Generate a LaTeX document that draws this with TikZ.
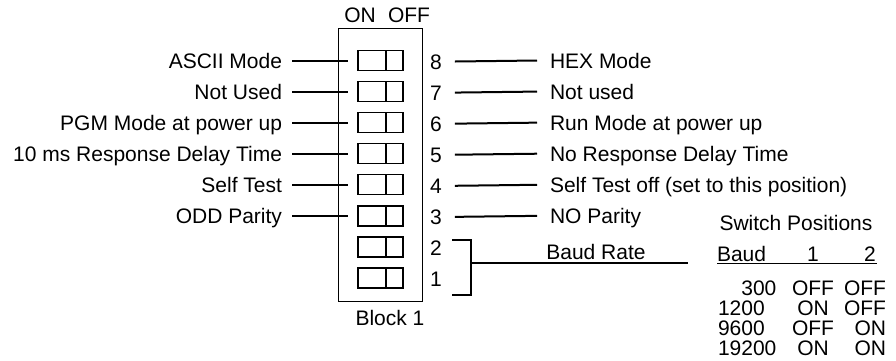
\documentclass[tikz,border=0pt]{standalone}
\usepackage{fontspec}
\setmainfont{Liberation Sans}
\begin{document}
\begin{tikzpicture}[x=1pt,y=-1pt,
  font=\fontsize{21}{23}\selectfont,
  every node/.style={inner sep=0pt, outer sep=0pt},
  lbl/.style={text height=15pt, text depth=0pt},
  lead/.style={line width=2pt},
  blockline/.style={line width=1pt},
  switchbox/.style={draw, line width=1.3pt, minimum width=45pt, minimum height=20pt}]
\useasboundingbox (0,0) rectangle (896,360);

% block
\node[draw, blockline, minimum width=84pt, minimum height=273pt] (block) at (380,164.5) {};
\node[lbl] (on) at (360,15) {ON};
\node[lbl] (off) at (409,15) {OFF};
\node[lbl] (blk) at (390,318) {Block 1};

% switches and numbers
\foreach \k in {1,...,8} {
  \pgfmathsetmacro{\yy}{60.5+31.07*(8-\k)}
  \node[switchbox] (s\k) at (380.5,\yy) {};
  \draw[line width=1.1pt] ([xshift=28pt]s\k.north west) -- ([xshift=28pt]s\k.south west);
  \node[lbl] (n\k) at (436,\yy+1) {\k};
}

% left labels
\foreach \k/\t in {8/ASCII Mode,7/Not Used,6/PGM Mode at power up,5/10 ms Response Delay Time,4/Self Test,3/ODD Parity} {
  \node[lbl, anchor=east] (l\k) at (282, 60.5+31.07*8-31.07*\k) {\t};
  \draw[lead] ([xshift=10pt]l\k.east) -- ([xshift=-10pt]s\k.west);
}

% right labels
\foreach \k/\t in {8/HEX Mode,7/Not used,6/Run Mode at power up,5/No Response Delay Time,4/Self Test off (set to this position),3/NO Parity} {
  \node[lbl, anchor=west] (r\k) at (550, 60.5+31.07*8-31.07*\k) {\t};
  \draw[lead] ([xshift=13pt]n\k.east) -- ([xshift=-13pt]r\k.west);
}

% bracket for baud rate
\coordinate (bt) at (452,240);
\coordinate (bb) at (452,295);
\coordinate (bm) at (471,263);
\coordinate (be) at (688,263);
\draw[lead] (bt) -- (bt -| bm) -- (bb -| bm) -- (bb);
\draw[lead] (bm) -- (be);
\node[lbl] (baudrate) at (596,252) {Baud Rate};

% table
\node[lbl] (swpos) at (796,223) {Switch Positions};
\node[lbl, anchor=west] (hbaud) at (717,253.5) {Baud};
\node[lbl] (h1) at (813,253.5) {1};
\node[lbl] (h2) at (870,253.5) {2};
\coordinate (ul) at (717,263.5);
\coordinate (ur) at (877,263.5);
\draw[line width=1.3pt] (ul) -- (ur);

\foreach \i/\b/\c/\d in {0/\hphantom{00}300/OFF/OFF,1/1200/ON/OFF,2/9600/OFF/ON,3/19200/ON/ON} {
  \node[lbl, anchor=west] (b\i) at (718,287.5+20*\i) {\b};
  \node[lbl] (c\i) at (813,287.5+20*\i) {\c};
  \node[lbl, anchor=east] (d\i) at (886,287.5+20*\i) {\d};
}
\end{tikzpicture}
\end{document}
